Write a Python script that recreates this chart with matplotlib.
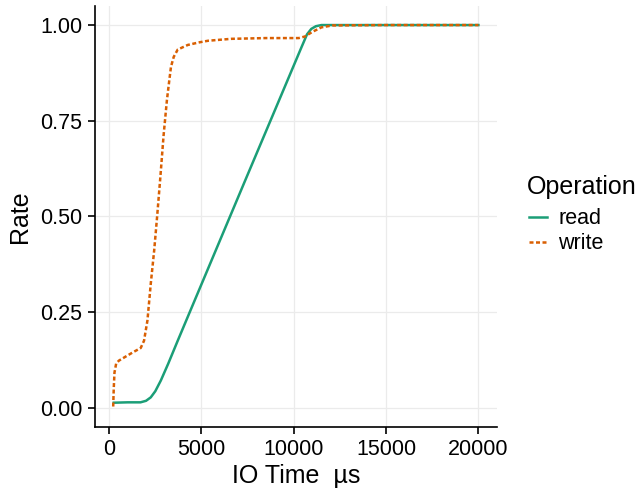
import matplotlib.pyplot as plt
import numpy as np

plt.rcParams['font.family'] = ['Liberation Sans', 'DejaVu Sans']

# values (IO time in microseconds, cumulative rate)
read_x = [250, 1000, 1700, 2000, 2255, 2500, 2800, 3200, 3715, 4630, 5355, 7370,
          9000, 10400, 10720, 10950, 11200, 11500, 15000, 20000]
read_y = [0.013, 0.014, 0.014, 0.018, 0.027, 0.043, 0.071, 0.115, 0.175, 0.28, 0.363, 0.594,
          0.78, 0.94, 0.976, 0.99, 0.997, 1.0, 1.0, 1.0]

write_x = [220, 250, 290, 380, 530, 980, 1300, 1710, 1890, 2075, 2255, 2440, 2600,
           2770, 2950, 3130, 3260, 3350, 3500, 3715, 4260, 4900, 5360, 6610, 8500,
           10270, 10600, 11000, 11500, 12080, 15000, 20000]
write_y = [0.003, 0.05, 0.092, 0.115, 0.123, 0.136, 0.145, 0.156, 0.175, 0.228, 0.324,
           0.411, 0.5, 0.6, 0.712, 0.804, 0.856, 0.891, 0.917, 0.936, 0.948, 0.955,
           0.959, 0.964, 0.966, 0.966, 0.970, 0.982, 0.994, 0.999, 1.0, 1.0]

fig = plt.figure(figsize=(6.37, 4.94), dpi=100)
ax = fig.add_axes([0.149, 0.136, 0.631, 0.852])

ax.plot(read_x, read_y, color='#1B9E77', lw=1.8, label='read')
ax.plot(write_x, write_y, color='#D95F02', lw=1.8, dashes=(1.6, 1.0), label='write')

ax.set_xlim(-770, 21000)
ax.set_ylim(-0.05, 1.05)
ax.set_xticks([0, 5000, 10000, 15000, 20000])
ax.set_yticks([0, 0.25, 0.5, 0.75, 1.0])
ax.set_yticklabels(['0.00', '0.25', '0.50', '0.75', '1.00'])
ax.grid(True, color='#EBEBEB', lw=0.9)
ax.set_axisbelow(True)

for s in ['top', 'right']:
    ax.spines[s].set_visible(False)
for s in ['left', 'bottom']:
    ax.spines[s].set_linewidth(1.2)
ax.tick_params(labelsize=15.5, width=1.2, length=5, colors='black', pad=4)

ax.set_xlabel('IO Time  µs', fontsize=18, labelpad=3)
ax.set_ylabel('Rate', fontsize=18, labelpad=6)

fig.text(0.827, 0.621, 'Operation', fontsize=18, va='center', ha='left')
fig.legend(loc='center left', bbox_to_anchor=(0.80, 0.532), frameon=False,
           fontsize=15.5, handlelength=0.85, handletextpad=0.5, labelspacing=0.18)

fig.savefig('out.png', dpi=100)
